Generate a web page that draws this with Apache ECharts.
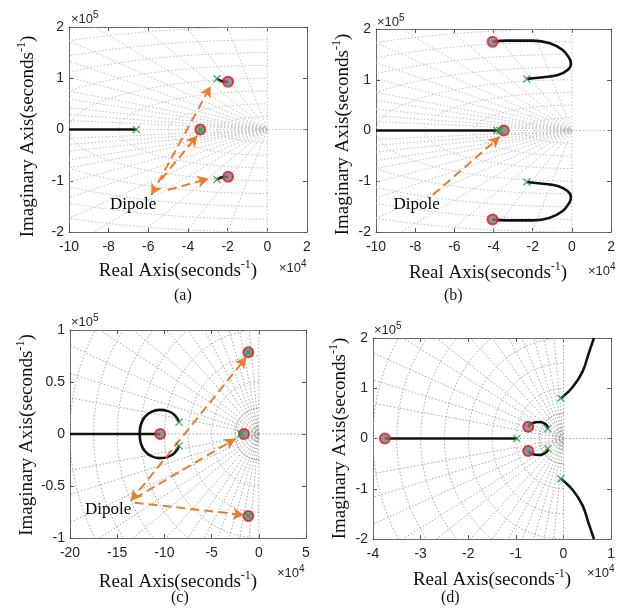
<!DOCTYPE html>
<html><head><meta charset="utf-8">
<script src="https://cdn.jsdelivr.net/npm/echarts@6/dist/echarts.min.js"></script>
<style>html,body{margin:0;padding:0;background:#fff}#c{width:618px;height:616px}</style>
</head><body><div id="c"></div>
<script>
// ---------- Panel (a) ----------
const aLocusReal = [[-100000, 0], [-66100, 0]];
const aLocusUpper = [[-25400, 99000], [-23300, 94800], [-19800, 93000]];
const aLocusLower = [[-25400, -97600], [-23300, -93800], [-19800, -92300]];
const aPoles = [[-66100, 0], [-33800, 0], [-25400, 99000], [-25400, -97600]];
const aZeros = [[-33800, 0], [-19800, 93000], [-19800, -92300]];
const aArrows = [[[-58500, -128000], [-28600, 84500], 2], [[-53500, -97600], [-35300, -11700], 1], [[-50100, -118000], [-29600, -96000], 1]];
const aLabel = [-67700, -146000];
const aWn = [1000, 2000, 3000, 4000, 5000, 25000, 50000, 75000, 100000, 125000, 150000, 175000, 200000, 225000];

// ---------- Panel (b) ----------
const bLocusReal = [[-100000, 0], [-37700, 0]];
const bLocusUpper = [[-40500, 175000], [-33000, 177000], [-19700, 177000], [-11300, 171900], [-4700, 158700], [-1300, 142400], [-500, 131200], [-2200, 119400], [-7200, 109200], [-14700, 105000], [-23000, 101700]];
const bLocusLower = [[-40500, -175600], [-33000, -177000], [-19700, -177000], [-11300, -171900], [-4700, -158700], [-1300, -142400], [-500, -131200], [-2200, -119400], [-7200, -109200], [-14700, -105000], [-23000, -101500]];
const bPoles = [[-38300, 0], [-36800, 0], [-23000, 101700], [-23000, -101500]];
const bZeros = [[-34800, 0], [-40500, 175000], [-40500, -175600]];
const bArrows = [[[-71000, -127000], [-36800, -12400], 1]];
const bLabel = [-79300, -146700];
const bWn = aWn;

// ---------- Panel (c) ----------
const cLocusReal = [[-200000, 0], [-126200, 0]];
const cLocusUpper = [[-84500, 11400], [-89100, 18100], [-96200, 22000], [-105000, 23200], [-113900, 21300], [-120900, 16200], [-125100, 8500], [-126200, 0]];
const cLocusLower = [[-84500, -11400], [-89100, -18100], [-96200, -22000], [-105000, -23200], [-113900, -21300], [-120900, -16200], [-125100, -8500], [-126200, 0]];
const cLocusInner = [[-126200, 0], [-104500, 0]];
const cPoles = [[-84500, 11400], [-84500, -11400], [-19200, 0], [-11100, 78600], [-11100, -78800]];
const cZeros = [[-104500, 0], [-15700, 0], [-11100, 78600], [-11100, -78800]];
const cArrows = [[[-135700, -64400], [-13200, 73800], 2], [[-131500, -61900], [-24900, -4600], 1], [[-131500, -66000], [-15700, -77900], 1]];
const cLabel = [-159700, -72400];
const cWn = [1500, 3000, 4500, 6000, 7500, 25000, 50000, 75000, 100000, 125000, 150000, 175000, 200000, 225000];

// ---------- Panel (d) ----------
const dLocusReal = [[-37500, 0], [-9800, 0]];
const dLocusUpper = [[-7400, 23500], [-6600, 30200], [-4900, 32800], [-3500, 26300], [-3300, 19500]];
const dLocusLower = [[-7400, -24900], [-6600, -30800], [-4900, -32800], [-3500, -26300], [-3300, -20200]];
const dLocusFarUpper = [[-560, 80000], [1900, 101900], [4000, 133000], [5300, 169500], [6400, 200000]];
const dLocusFarLower = [[-560, -80000], [1900, -101900], [4000, -133000], [5300, -169500], [6400, -200000]];
const dPoles = [[-9800, 0], [-3300, 19500], [-3300, -20200], [-560, 80000], [-560, -80000]];
const dZeros = [[-37500, 0], [-7400, 23500], [-7400, -24900]];
const dWn = [400, 800, 1200, 1600, 2000, 5000, 10000, 15000, 20000, 25000, 30000, 35000, 40000, 45000];

const zetaList = [0.1, 0.2, 0.3, 0.4, 0.5, 0.6, 0.7, 0.8, 0.86, 0.92, 0.96, 0.985];

const xTickDiv = 1e4, yTickDiv = 1e5;

const panels = [
  {grid: {left: 69, top: 27, width: 238, height: 205}, x: [-100000, 20000, 20000], y: [-200000, 200000, 100000],
   lines: [aLocusReal, aLocusUpper, aLocusLower], poles: aPoles, zeros: aZeros, arrows: aArrows, label: aLabel,
   wn: aWn, sy: 1, gcol: '#c2c2c2', xPad: 20, xGap: 27, yGap: 31, yPad: 14, main: null},
  {grid: {left: 376, top: 29, width: 240, height: 203}, x: [-100000, 20000, 20000], y: [-200000, 200000, 100000],
   lines: [bLocusReal, bLocusUpper, bLocusLower], poles: bPoles, zeros: bZeros, arrows: bArrows, label: bLabel,
   wn: bWn, sy: 1, gcol: '#c2c2c2', xPad: 11, xGap: 29, yGap: 23, yPad: 8, main: null},
  {grid: {left: 70, top: 330, width: 236, height: 208}, x: [-200000, 50000, 50000], y: [-100000, 100000, 50000],
   lines: [cLocusReal, cLocusUpper, cLocusLower, cLocusInner], poles: cPoles, zeros: cZeros, arrows: cArrows, label: cLabel,
   wn: cWn, sy: 1, gcol: '#a8a8a8', xPad: 20, xGap: 32, yGap: 30, yPad: 2, main: 25000},
  {grid: {left: 373, top: 338, width: 243, height: 201}, x: [-40000, 10000, 10000], y: [-200000, 200000, 100000],
   lines: [dLocusReal, dLocusUpper, dLocusLower, dLocusFarUpper, dLocusFarLower], poles: dPoles, zeros: dZeros, arrows: [], label: null,
   wn: dWn, sy: 10, gcol: '#a8a8a8', xPad: 0, xGap: 29, yGap: 23, yPad: 0, main: 5000}
];

const fmt = (v, d) => String(Math.round(v / d * 100) / 100);
const crossPath = 'path://M0,1.2L1.2,0L5,3.8L8.8,0L10,1.2L6.2,5L10,8.8L8.8,10L5,6.2L1.2,10L0,8.8L3.8,5Z';
const tickFont = {fontFamily: '"Liberation Sans", Arial, Helvetica, sans-serif', fontSize: 14, color: '#262626'};
const nameRich = {
  a: {fontFamily: '"Liberation Serif", "Times New Roman", serif', fontSize: 19, color: '#111', lineHeight: 22, verticalAlign: 'bottom'},
  s: {fontFamily: '"Liberation Serif", "Times New Roman", serif', fontSize: 12, color: '#111', lineHeight: 22, verticalAlign: 'top'}
};

const grids = [], xAxes = [], yAxes = [], series = [];

function sgridRenderer(p) {
  return function (params, api) {
    const ch = [];
    const o = api.coord([0, 0]);
    const st = (c, dash) => ({stroke: c, lineWidth: 1, lineDash: dash || [1.5, 2], fill: null});
    const xa = api.coord([p.x[0], 0]), xb = api.coord([p.x[1], 0]);
    const ya = api.coord([0, p.y[0]]), yb = api.coord([0, p.y[1]]);
    ch.push({type: 'line', shape: {x1: xa[0], y1: xa[1], x2: xb[0], y2: xb[1]}, style: st(p.gcol)});
    ch.push({type: 'line', shape: {x1: ya[0], y1: ya[1], x2: yb[0], y2: yb[1]}, style: st(p.gcol)});
    zetaList.forEach(z => {
      const s = Math.sqrt(1 - z * z), far = 5e6;
      [1, -1].forEach(sg => {
        const q = api.coord([-z * far, sg * s * far * p.sy]);
        ch.push({type: 'line', shape: {x1: o[0], y1: o[1], x2: q[0], y2: q[1]}, style: st(p.gcol)});
      });
    });
    p.wn.forEach(r => {
      const pts = [];
      for (let i = 0; i <= 120; i++) {
        const t = -Math.PI / 2 + Math.PI * i / 120;
        pts.push(api.coord([-r * Math.cos(t), r * p.sy * Math.sin(t)]));
      }
      const main = r === p.main;
      ch.push({type: 'polyline', shape: {points: pts}, style: st(main ? '#8c8c8c' : p.gcol, main ? [2, 1] : null)});
    });
    return {type: 'group', children: ch};
  };
}

panels.forEach((p, i) => {
  grids.push(Object.assign({containLabel: false}, p.grid));
  const common = {type: 'value', gridIndex: i, splitLine: {show: false}, axisLine: {show: true, onZero: false, lineStyle: {color: '#6a6a6a', width: 1}},
    axisTick: {show: true, inside: true, length: 4, lineStyle: {color: '#555'}}};
  xAxes.push(Object.assign({}, common, {min: p.x[0], max: p.x[1], interval: p.x[2], position: 'bottom',
    axisLabel: Object.assign({margin: 8, formatter: v => fmt(v, xTickDiv)}, tickFont),
    name: '{a|Real Axis(seconds}{s|-1}{a|)}', nameLocation: 'middle', nameGap: p.xGap,
    nameTextStyle: {rich: nameRich, padding: [0, p.xPad, 0, 0]}}));
  xAxes.push(Object.assign({}, common, {min: p.x[0], max: p.x[1], interval: p.x[2], position: 'top', axisLabel: {show: false}}));
  yAxes.push(Object.assign({}, common, {min: p.y[0], max: p.y[1], interval: p.y[2], position: 'left',
    axisLabel: Object.assign({margin: 5, formatter: v => fmt(v, yTickDiv)}, tickFont),
    name: '{a|Imaginary Axis(seconds}{s|-1}{a|)}', nameLocation: 'middle', nameGap: p.yGap, nameRotate: 90,
    nameTextStyle: {rich: nameRich, padding: [0, p.yPad, 0, 0]}}));
  yAxes.push(Object.assign({}, common, {min: p.y[0], max: p.y[1], interval: p.y[2], position: 'right', axisLabel: {show: false}}));

  const xi = 2 * i, yi = 2 * i;
  series.push({type: 'custom', xAxisIndex: xi, yAxisIndex: yi, data: [[0, 0]], renderItem: sgridRenderer(p), clip: true, silent: true, z: 1});
  p.lines.forEach(l => series.push({type: 'line', xAxisIndex: xi, yAxisIndex: yi, data: l, smooth: 0.4, showSymbol: false, symbol: 'none',
    lineStyle: {color: '#111', width: 2.6}, clip: true, silent: true, z: 3}));
  series.push({type: 'scatter', xAxisIndex: xi, yAxisIndex: yi, data: p.zeros, symbol: 'circle', symbolSize: 10,
    itemStyle: {color: '#7a7a7a', borderColor: '#e5151c', borderWidth: 2}, silent: true, z: 4});
  series.push({type: 'scatter', xAxisIndex: xi, yAxisIndex: yi, data: p.poles, symbol: crossPath, symbolSize: 8,
    itemStyle: {color: '#1f9e44'}, silent: true, z: 5});
  if (p.label) {
    series.push({type: 'scatter', xAxisIndex: xi, yAxisIndex: yi, data: [p.label], symbol: 'circle', symbolSize: 2,
      itemStyle: {color: 'rgba(255,255,255,0)'},
      label: {show: true, position: 'inside', formatter: 'Dipole', fontFamily: '"Liberation Serif", "Times New Roman", serif', fontSize: 17, color: '#000', opacity: 1},
      silent: true, z: 6,
      markLine: {silent: true, animation: false, symbolSize: [9, 11], label: {show: false},
        lineStyle: {color: '#ec7b2c', width: 2, type: [9, 5]}, emphasis: {disabled: true},
        data: p.arrows.map(a => [{coord: a[0], symbol: a[2] === 2 ? 'arrow' : 'none'}, {coord: a[1], symbol: 'arrow'}])}});
  }
});

const supText = (x, y, base, sup) => ({type: 'text', left: x, top: y, silent: true,
  style: {text: '{a|' + base + '}{b|' + sup + '}', rich: {
    a: {fontFamily: '"Liberation Sans", Arial, sans-serif', fontSize: 13, fill: '#262626', lineHeight: 16, verticalAlign: 'bottom'},
    b: {fontFamily: '"Liberation Sans", Arial, sans-serif', fontSize: 10, fill: '#262626', lineHeight: 16, verticalAlign: 'top'}}}});
const cap = (x, y, t) => ({type: 'text', left: x, top: y, silent: true,
  style: {text: t, font: '16px "Liberation Serif", "Times New Roman", serif', fill: '#111'}});

const graphic = [
  supText(71, 10, '×10', '5'), supText(377, 13, '×10', '5'), supText(71, 313, '×10', '5'), supText(374, 321, '×10', '5'),
  supText(279, 259, '×10', '4'), supText(588, 262, '×10', '4'), supText(277, 564, '×10', '4'), supText(587, 564, '×10', '4'),
  cap(174, 288, '(a)'), cap(444, 288, '(b)'), cap(171, 590, '(c)'), cap(441, 590, '(d)')
];

const chart = echarts.init(document.getElementById('c'), null, {renderer: 'canvas'});
chart.setOption({animation: false, backgroundColor: '#fff', grid: grids, xAxis: xAxes, yAxis: yAxes, series: series, graphic: graphic});
</script></body></html>
